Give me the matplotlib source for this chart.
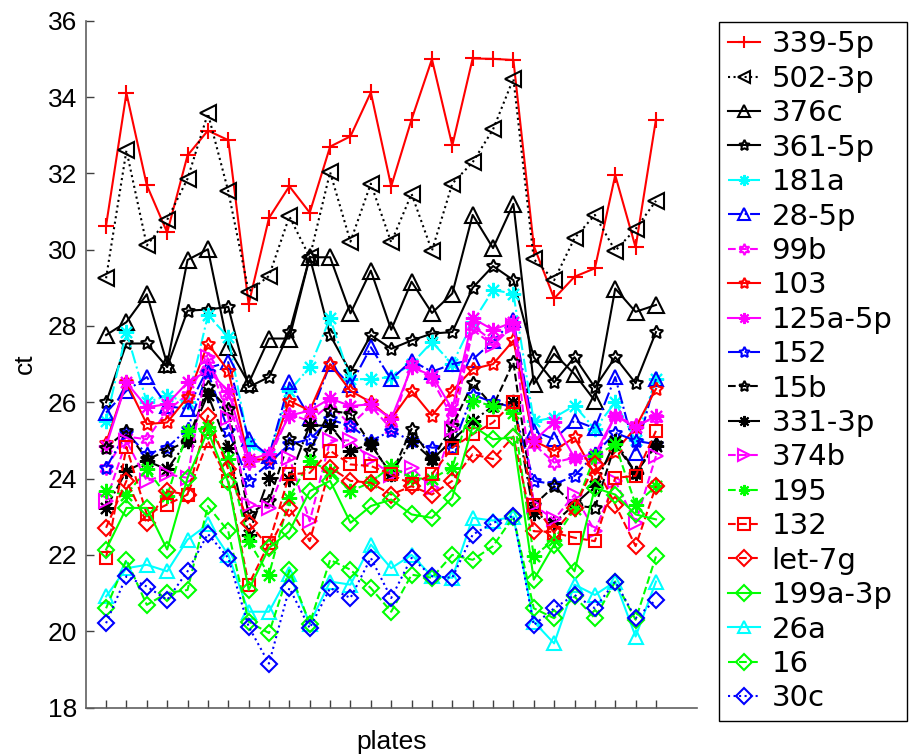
import matplotlib
matplotlib.use("Agg")
import matplotlib.pyplot as plt

# ---------------- data ----------------
plates = list(range(1, 29))

s339_5p = [30.63, 34.10, 31.69, 30.45, 32.47, 33.12, 32.87, 28.57, 30.83, 31.66, 30.97, 32.70, 32.97, 34.12,
           31.66, 33.41, 34.99, 32.73, 35.01, 35.00, 34.97, 30.10, 28.72, 29.29, 29.51, 31.95, 30.06, 33.41]
s502_3p = [29.25, 32.60, 30.11, 30.78, 31.86, 33.57, 31.53, 28.90, 29.31, 30.87, 29.80, 32.03, 30.21, 31.73,
           30.19, 31.46, 29.97, 31.73, 32.29, 33.15, 34.48, 29.75, 29.20, 30.30, 30.91, 29.97, 30.54, 31.28]
s376c = [27.76, 28.10, 28.83, 27.00, 29.73, 30.01, 27.44, 26.50, 27.67, 27.67, 29.80, 29.80, 28.33, 29.45,
         27.90, 29.16, 28.34, 28.85, 30.91, 30.04, 31.20, 26.48, 27.27, 26.74, 26.04, 28.98, 28.37, 28.55]
s361_5p = [26.00, 27.54, 27.54, 26.92, 28.40, 28.43, 28.50, 26.40, 26.66, 27.84, 29.80, 27.76, 26.79, 27.76,
           27.40, 27.62, 27.80, 27.84, 29.00, 29.57, 29.20, 27.18, 26.52, 27.18, 26.39, 27.18, 26.50, 27.84]
s181a = [25.51, 27.84, 26.00, 26.17, 26.00, 28.28, 27.71, 24.90, 24.60, 26.30, 26.92, 28.20, 26.60, 26.61,
         26.66, 27.00, 27.58, 27.00, 28.10, 28.94, 28.85, 25.50, 25.60, 25.91, 25.30, 26.00, 25.00, 26.61]
s28_5p = [25.73, 26.30, 26.66, 25.90, 25.82, 26.90, 27.05, 25.03, 24.59, 26.52, 25.60, 27.00, 26.44, 27.44,
          26.60, 27.09, 26.80, 27.00, 27.12, 27.60, 28.15, 25.25, 25.03, 25.52, 25.32, 26.66, 24.68, 26.61]
s99b = [24.29, 25.10, 25.03, 25.78, 26.20, 27.14, 26.00, 24.40, 24.50, 25.70, 25.50, 25.95, 25.40, 25.90,
        25.30, 27.00, 26.60, 25.60, 28.00, 27.60, 28.00, 24.90, 24.42, 24.55, 24.50, 25.65, 25.40, 25.60]
s103 = [24.94, 26.52, 25.43, 25.47, 26.13, 27.53, 26.83, 24.50, 24.50, 26.04, 25.78, 27.00, 26.30, 26.00,
        25.56, 26.30, 25.65, 26.30, 26.87, 27.00, 27.62, 24.99, 24.73, 25.08, 24.10, 24.70, 25.34, 26.35]
s125a_5p = [24.85, 26.52, 25.87, 25.95, 26.52, 26.83, 26.30, 24.50, 24.64, 25.65, 25.78, 26.10, 25.90, 25.95,
            25.56, 26.92, 26.70, 25.82, 28.20, 27.90, 28.10, 24.99, 25.47, 24.55, 24.64, 25.65, 25.34, 25.65]
s152 = [24.29, 25.20, 24.64, 24.81, 25.30, 26.79, 25.25, 23.94, 24.40, 24.90, 25.03, 25.55, 25.38, 24.99,
        25.25, 24.99, 24.81, 24.81, 26.20, 26.00, 25.87, 23.94, 23.85, 24.07, 24.64, 25.20, 24.99, 24.90]
s15b = [24.81, 25.25, 24.50, 24.73, 24.99, 26.39, 25.82, 23.06, 23.40, 25.03, 24.72, 25.78, 25.70, 24.90,
        24.10, 25.30, 24.50, 25.38, 26.50, 25.90, 27.05, 23.30, 23.80, 23.30, 23.23, 24.90, 24.15, 24.90]
s331_3p = [23.23, 24.20, 24.46, 24.24, 24.99, 26.20, 24.81, 22.53, 24.02, 24.00, 25.40, 25.38, 24.73, 24.90,
           24.11, 24.99, 24.50, 25.00, 25.50, 25.90, 26.00, 23.10, 22.84, 23.32, 23.80, 24.99, 24.15, 24.86]
s374b = [23.41, 24.99, 23.94, 24.11, 24.02, 27.18, 25.60, 23.32, 23.23, 24.55, 22.88, 25.00, 25.00, 24.50,
         24.10, 24.29, 23.76, 25.30, 27.90, 27.50, 28.00, 23.30, 22.93, 23.58, 22.62, 23.94, 22.84, 24.59]
s195 = [23.67, 23.58, 24.24, 23.54, 25.25, 25.34, 24.50, 22.36, 21.48, 23.50, 24.46, 24.20, 23.67, 23.90,
        24.33, 24.00, 24.00, 24.29, 26.04, 25.90, 25.73, 21.96, 22.40, 23.20, 24.59, 24.90, 23.32, 23.80]
s132 = [21.92, 24.83, 23.06, 23.32, 23.58, 24.99, 23.94, 21.22, 22.30, 24.11, 24.15, 24.73, 24.37, 24.33,
        24.11, 23.85, 24.11, 24.81, 25.16, 25.47, 26.00, 23.32, 22.58, 22.45, 22.36, 24.02, 24.07, 25.25]
slet_7g = [22.71, 23.94, 22.84, 23.67, 23.58, 25.65, 24.24, 22.84, 22.20, 23.23, 22.36, 24.29, 23.94, 23.89,
           23.58, 23.80, 23.58, 23.94, 24.64, 24.51, 25.10, 22.62, 22.60, 23.23, 24.37, 23.32, 22.23, 23.80]
s199a_3p = [22.14, 23.23, 23.23, 22.14, 24.02, 25.25, 23.90, 21.08, 22.18, 22.62, 23.67, 23.94, 22.84, 23.28,
            23.45, 23.06, 22.97, 23.50, 25.38, 25.03, 25.08, 21.35, 22.27, 21.57, 23.76, 23.58, 23.06, 22.93]
s26a = [20.91, 21.65, 21.74, 21.57, 22.40, 22.80, 22.00, 20.51, 20.51, 21.50, 20.20, 21.30, 21.22, 22.27,
        21.65, 22.00, 21.44, 21.40, 22.97, 22.90, 23.00, 20.25, 19.68, 21.22, 20.95, 21.30, 19.86, 21.30]
s16 = [20.60, 21.87, 20.69, 21.00, 21.08, 23.28, 22.62, 20.25, 19.95, 21.60, 20.20, 21.87, 21.61, 21.13,
       20.51, 21.48, 21.40, 22.00, 21.87, 22.23, 23.00, 20.60, 20.34, 20.91, 20.34, 21.30, 20.30, 21.96]
s30c = [20.21, 21.44, 21.17, 20.82, 21.57, 22.55, 21.92, 20.12, 19.15, 21.13, 20.08, 21.13, 20.87, 21.92,
        20.87, 21.92, 21.44, 21.40, 22.53, 22.84, 23.02, 20.16, 20.60, 20.95, 20.60, 21.30, 20.34, 20.82]

labels = ['339-5p', '502-3p', '376c', '361-5p', '181a', '28-5p', '99b', '103', '125a-5p', '152',
          '15b', '331-3p', '374b', '195', '132', 'let-7g', '199a-3p', '26a', '16', '30c']
values = [s339_5p, s502_3p, s376c, s361_5p, s181a, s28_5p, s99b, s103, s125a_5p, s152,
          s15b, s331_3p, s374b, s195, s132, slet_7g, s199a_3p, s26a, s16, s30c]

# ---------------- styles ----------------
R, K, C, B, M, G = '#ff0000', '#000000', '#00ffff', '#0000ff', '#ff00ff', '#00ff00'
PENT = (5, 1, 0)
HEXA = (6, 1, 0)
AST = (8, 2, 0)
styles = [
    (R, '-', '+', 12), (K, ':', '<', 11), (K, '-', '^', 11), (K, '-', PENT, 10),
    (C, '-.', AST, 11), (B, '-.', '^', 10), (M, '--', HEXA, 10), (R, '-', PENT, 10),
    (M, '-', AST, 11), (B, '-.', PENT, 10), (K, '--', PENT, 10), (K, '-.', AST, 11),
    (M, '--', '>', 10), (G, '--', AST, 11), (R, '--', 's', 9), (R, '--', 'D', 8),
    (G, '-', 'D', 8), (C, '-', '^', 10), (G, '--', 'D', 8), (B, ':', 'D', 8),
]

plt.rcParams['font.family'] = ['Liberation Sans', 'DejaVu Sans']

W, H = 914, 755
fig = plt.figure(figsize=(W / 100, H / 100), dpi=100)
ax = fig.add_axes([85.7 / W, (H - 707.5) / H, 611 / W, 686.8 / H])

handles = []
for lab, ys, (col, ls, mk, ms) in zip(labels, values, styles):
    ln, = ax.plot(plates, ys, color=col, linestyle=ls, marker=mk, markersize=ms,
                  markerfacecolor='none', markeredgecolor=col, markeredgewidth=1.5,
                  linewidth=1.5, label=lab)
    handles.append(ln)

ax.set_xlim(0, 30)
ax.set_ylim(18, 36)
ax.set_xticks(plates)
ax.set_xticklabels([])
ax.set_yticks(range(18, 37, 2))
ax.tick_params(direction='in', length=6, width=1, color='#404040', labelsize=19, pad=6)
for side in ('top', 'right'):
    ax.spines[side].set_visible(False)
for side in ('left', 'bottom'):
    ax.spines[side].set_color('#606060')
    ax.spines[side].set_linewidth(1.2)

ax.set_ylabel('ct', fontsize=19, labelpad=8)
ax.set_xlabel('plates', fontsize=19, labelpad=10)

leg = fig.legend(handles, labels, loc='upper left',
                 bbox_to_anchor=(719 / W, 0.0428, 188 / W, 1 - 21.7 / H - 0.0428),
                 mode='expand', borderaxespad=0, numpoints=1,
                 prop={'family': 'DejaVu Sans', 'size': 21},
                 frameon=True, fancybox=False, edgecolor='black', framealpha=1,
                 handlelength=1.1, handletextpad=0.4, borderpad=0.3, labelspacing=0.22)
leg.get_frame().set_linewidth(1.0)
for h in leg.legend_handles:
    h.set_markersize(8)

fig.savefig('out.png', dpi=100)
